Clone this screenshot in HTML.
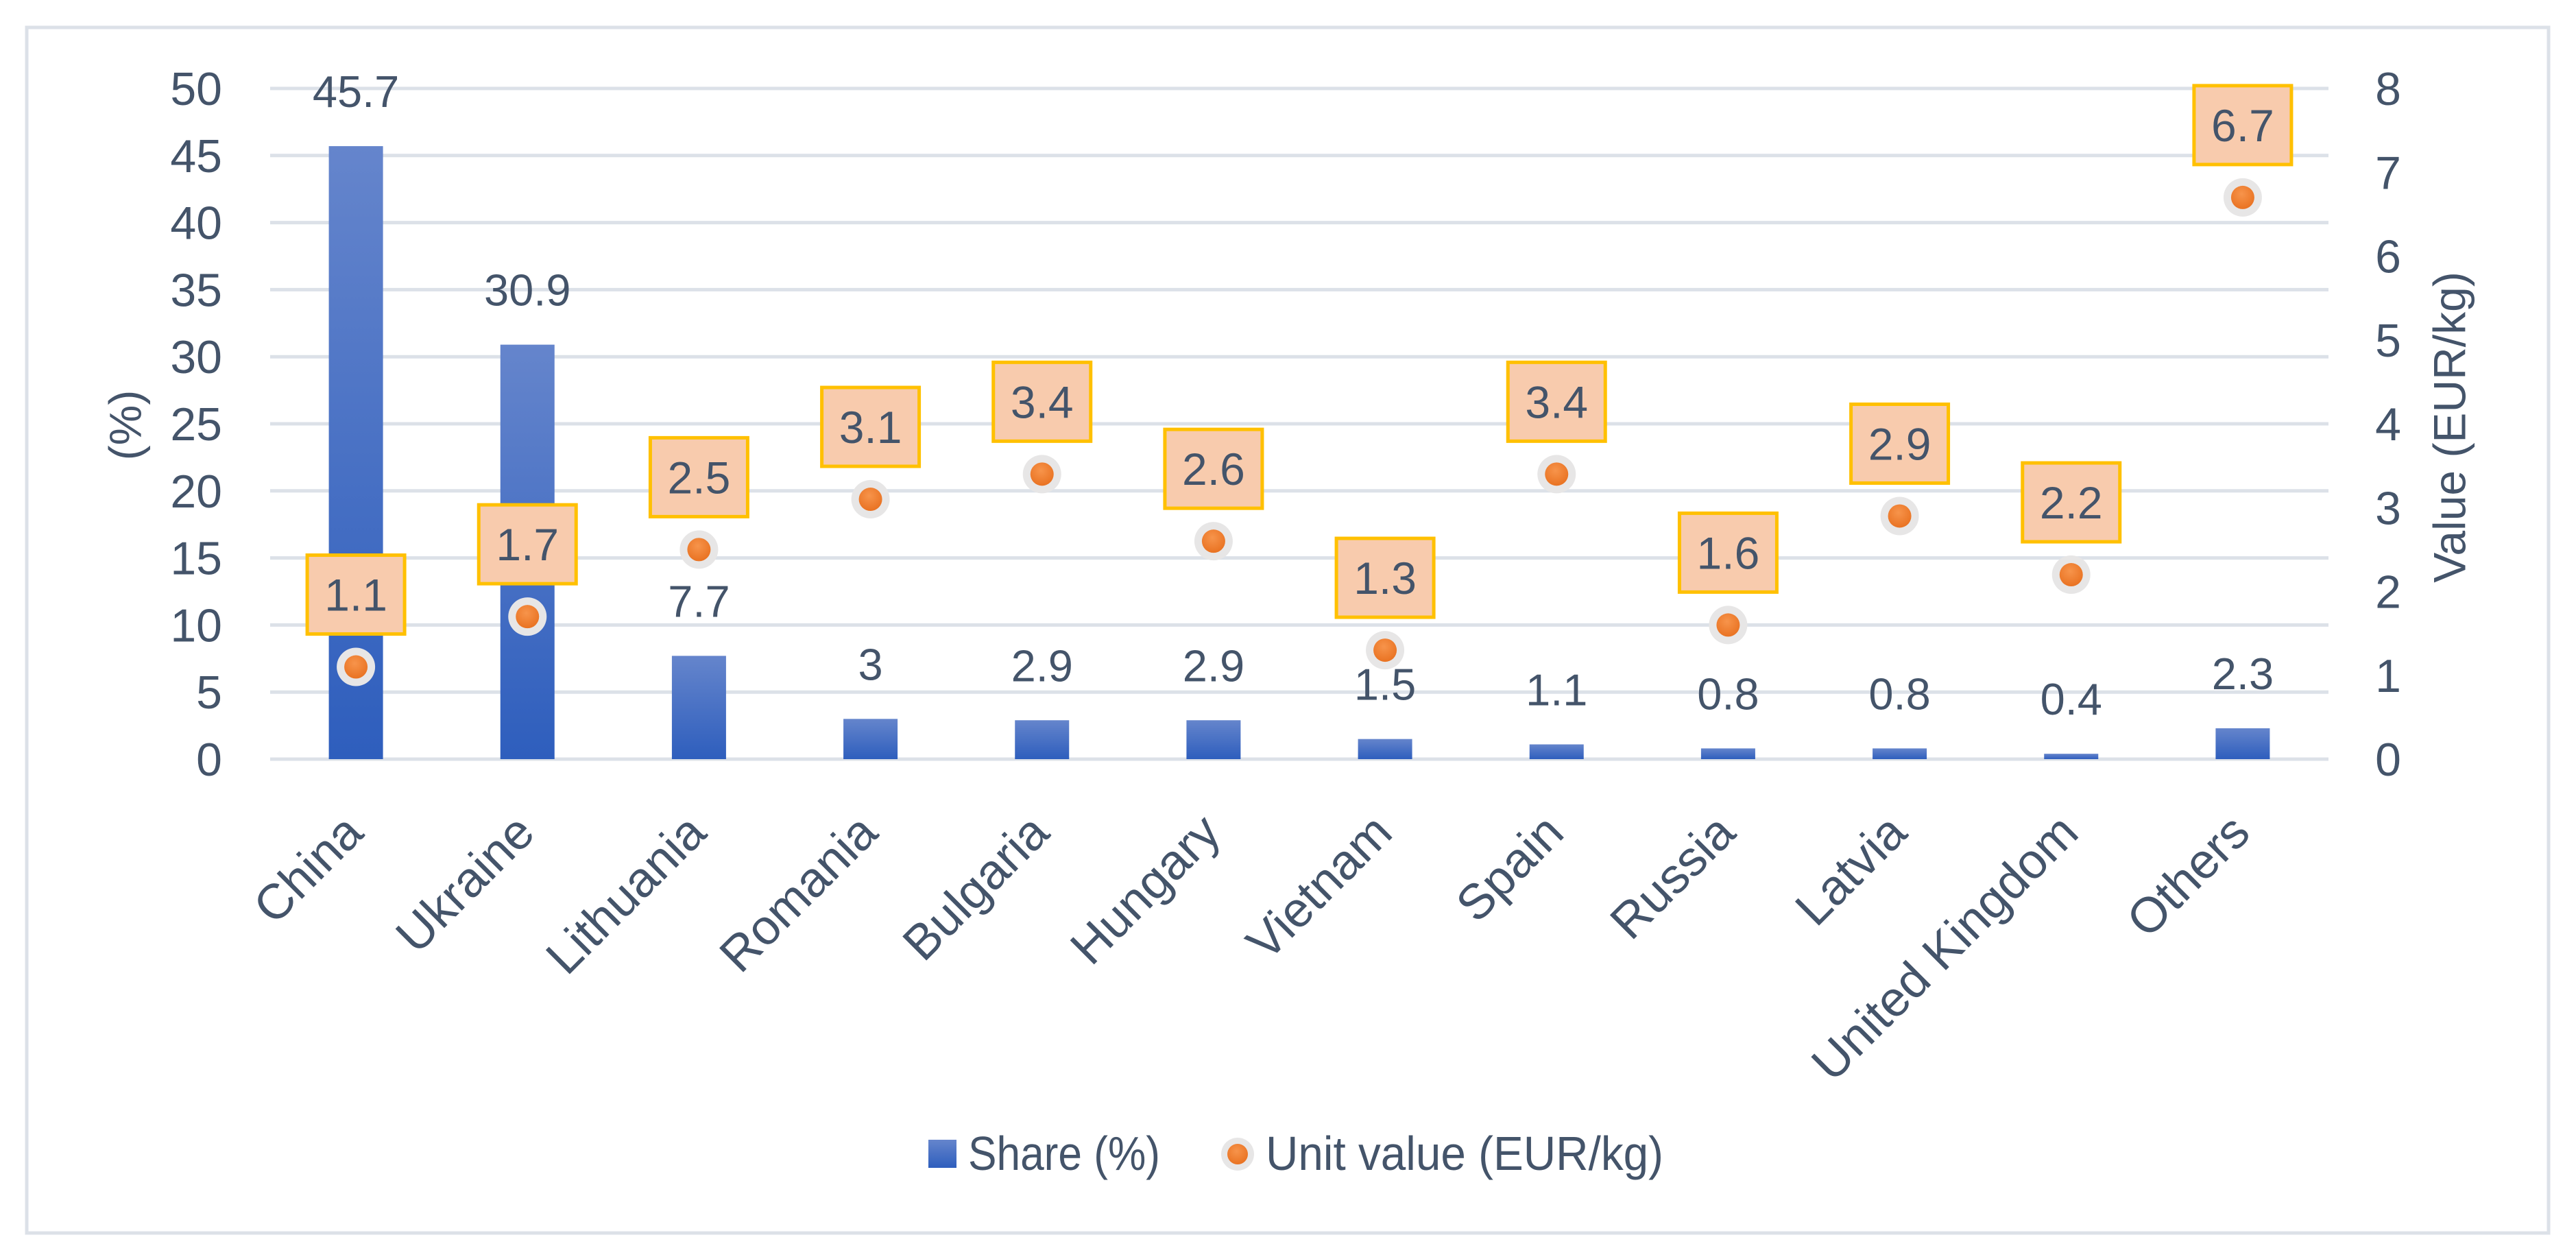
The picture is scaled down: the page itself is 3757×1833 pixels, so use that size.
<!DOCTYPE html>
<html><head><meta charset="utf-8"><style>
html,body{margin:0;padding:0;background:#fff;}
svg{display:block;font-family:"Liberation Sans",sans-serif;}
</style></head><body>
<svg id="chart" width="3757" height="1833" viewBox="0 0 3757 1833" xmlns="http://www.w3.org/2000/svg">
<defs>
<linearGradient id="barG" x1="0" y1="0" x2="0" y2="1"><stop offset="0" stop-color="#6585CC"/><stop offset="1" stop-color="#2E5EBD"/></linearGradient>
<radialGradient id="dotG" cx="0.45" cy="0.35" r="0.7"><stop offset="0" stop-color="#F7944B"/><stop offset="1" stop-color="#E8701F"/></radialGradient>
</defs>
<rect x="39" y="40" width="3678" height="1758" fill="#fff" stroke="#DCE1E8" stroke-width="5"/>
<g id="grid"></g><g id="bars"></g><g id="dots"></g><g id="labels"></g>
<text x="188" y="620" font-size="66" fill="#44546A" text-anchor="middle" dominant-baseline="middle" transform="rotate(-90 188 620)">(%)</text>
<text x="3578" y="623" font-size="66" fill="#44546A" text-anchor="middle" dominant-baseline="middle" transform="rotate(-90 3578 623)">Value (EUR/kg)</text>
<g>
<rect x="1354" y="1662" width="41" height="41" fill="url(#barG)"/>
<text x="1412" y="1706" font-size="70" fill="#44546A" textLength="280" lengthAdjust="spacingAndGlyphs">Share (%)</text>
<circle cx="1805" cy="1683" r="24" fill="#E7E6E6"/>
<circle cx="1805" cy="1683" r="15" fill="url(#dotG)"/>
<text x="1846" y="1706" font-size="70" fill="#44546A" textLength="580" lengthAdjust="spacingAndGlyphs">Unit value (EUR/kg)</text>
</g>
</svg>
<script>
const categories=["China","Ukraine","Lithuania","Romania","Bulgaria","Hungary","Vietnam","Spain","Russia","Latvia","United Kingdom","Others"];
const shareValues=[45.7,30.9,7.7,3,2.9,2.9,1.5,1.1,0.8,0.8,0.4,2.3];
const unitValues=[1.1,1.7,2.5,3.1,3.4,2.6,1.3,3.4,1.6,2.9,2.2,6.7];
const leftTicks=[0,5,10,15,20,25,30,35,40,45,50];
const rightTicks=[0,1,2,3,4,5,6,7,8];
const NS="http://www.w3.org/2000/svg";
const L=394,R=3396,T=129,B=1107;
const band=(R-L)/categories.length;
const xC=i=>L+band*(i+0.5);
const yL=v=>B-(v/50)*(B-T);
const yR=v=>B-(v/8)*(B-T);
function mk(tag,attrs,parent,text){const e=document.createElementNS(NS,tag);for(const k in attrs)e.setAttribute(k,attrs[k]);if(text!==undefined)e.textContent=text;document.getElementById(parent).appendChild(e);return e;}
leftTicks.forEach(t=>{
  const ln=mk('line',{x1:L,x2:R,y1:yL(t),y2:yL(t),stroke:'#DCE1E8','stroke-width':5},'grid');
  
  
  const tx=mk('text',{x:324,y:yL(t)+24,'font-size':68,fill:'#44546A','text-anchor':'end'},'grid',t);
  
  
});
rightTicks.forEach(t=>{
  const tx=mk('text',{x:3483,y:yR(t)+24,'font-size':68,fill:'#44546A','text-anchor':'middle'},'grid',t);
  
  
});
categories.forEach((c,i)=>{
  const cx=xC(i);
  const b=mk('rect',{x:cx-39.5,y:yL(shareValues[i]),width:79,height:B-yL(shareValues[i]),fill:'url(#barG)'},'bars');
  
  
  const sl=mk('text',{x:cx,y:yL(shareValues[i])-57,'font-size':65,fill:'#44546A','text-anchor':'middle'},'labels',shareValues[i]);
  
  
  const yy=yR(unitValues[i]);
  const ring=mk('circle',{cx:cx,cy:yy,r:28,fill:'#E7E6E6'},'dots');
  
  
  const d=mk('circle',{cx:cx,cy:yy,r:17,fill:'url(#dotG)'},'dots');
  
  
  const bx=mk('rect',{x:cx-71,y:yy-163,width:142,height:115,fill:'#F8CBAD',stroke:'#FFC000','stroke-width':5},'labels');
  
  
  const ut=mk('text',{x:cx,y:yy-82,'font-size':66,fill:'#44546A','text-anchor':'middle'},'labels',unitValues[i]);
  
  
  const ax=cx+14,ay=1218;
  const xl=mk('text',{x:ax,y:ay,'font-size':72,fill:'#44546A','text-anchor':'end',transform:`rotate(-45 ${ax} ${ay})`},'labels',c);
  
  
});
</script>
</body></html>
